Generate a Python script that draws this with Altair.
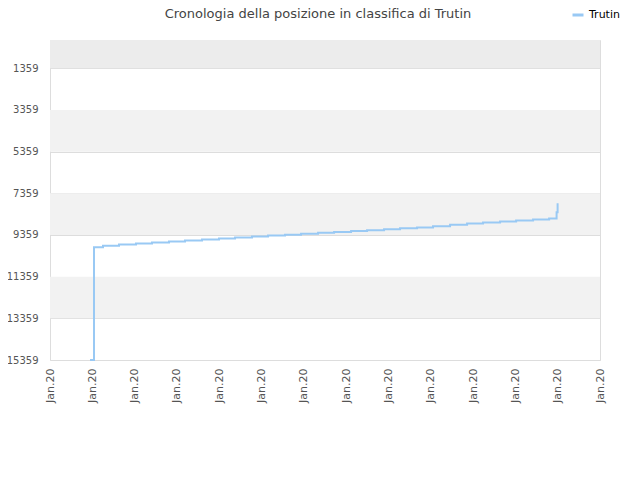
import altair as alt
import pandas as pd

title_text = "Cronologia della posizione in classifica di Trutin"
series_name = "Trutin"
line_color = "#99c9f4"

x_ticks = list(range(14))
x_label = "Jan.20"
y_ticks = [1359, 3359, 5359, 7359, 9359, 11359, 13359, 15359]

x_pos = [0.946, 1.040, 1.040, 1.040, 1.040, 1.040, 1.253, 1.631, 2.033, 2.411,
         2.813, 3.191, 3.593, 3.995, 4.374, 4.775, 5.154, 5.556, 5.934, 6.336,
         6.714, 7.116, 7.494, 7.896, 8.274, 8.676, 9.054, 9.456, 9.858, 10.236,
         10.638, 11.017, 11.418, 11.797, 11.974, 11.998]
ranks = [15359, 13059, 11812, 10901, 10470, 9942, 9880, 9813, 9765, 9717,
         9669, 9621, 9573, 9525, 9477, 9429, 9386, 9343, 9300, 9256,
         9213, 9170, 9127, 9084, 9041, 8997, 8935, 8868, 8806, 8758,
         8710, 8662, 8614, 8566, 8264, 7832]

band_lo = [1, 3359, 7359, 11359]
band_hi = [1359, 5359, 9359, 13359]
band_fill = ["#ececec", "#f2f2f2", "#f2f2f2", "#f2f2f2"]

line_df = pd.DataFrame({"x": x_pos, "rank": ranks,
                        "i": list(range(len(x_pos))),
                        "serie": [series_name] * len(x_pos)})
band_df = pd.DataFrame({"lo": band_lo, "hi": band_hi, "fill": band_fill})

xscale = alt.Scale(domain=[0, 13], nice=False, zero=False)
yscale = alt.Scale(domain=[1, 15359], reverse=True, nice=False, zero=False)

bands = alt.Chart(band_df).mark_rect().encode(
    x=alt.datum(0, scale=xscale),
    x2=alt.datum(13),
    y=alt.Y("lo:Q", scale=yscale),
    y2="hi:Q",
    fill=alt.Fill("fill:N", scale=None),
)

line = alt.Chart(line_df).mark_line(interpolate="step-after", strokeWidth=2).encode(
    x=alt.X("x:Q", scale=xscale, title=None,
            axis=alt.Axis(values=x_ticks, labelExpr="'" + x_label + "'",
                          labelAngle=270, grid=False, ticks=False, domain=False,
                          labelPadding=8, labelFontSize=11)),
    y=alt.Y("rank:Q", scale=yscale, title=None,
            axis=alt.Axis(values=y_ticks, format="d", grid=True, gridColor="#dddddd",
                          ticks=False, domain=False, labelPadding=12,
                          labelFontSize=10)),
    order="i:Q",
    color=alt.Color("serie:N",
                    scale=alt.Scale(domain=[series_name], range=[line_color]),
                    legend=alt.Legend(title=None, orient="none", legendX=521,
                                      legendY=-32, symbolType="stroke",
                                      symbolStrokeWidth=3, symbolSize=121,
                                      labelFontSize=11, labelColor="#000000",
                                      labelFont="DejaVu Sans")),
)

chart = alt.layer(bands, line).properties(
    width=550, height=320,
    title=alt.TitleParams(title_text, fontSize=13, font="DejaVu Sans",
                          fontWeight="normal", color="#444444", frame="group",
                          dx=-7, dy=17, anchor="middle"),
    autosize=alt.AutoSizeParams(type="none"),
    padding={"left": 42, "top": 32, "right": 30, "bottom": 100},
).configure_axis(
    labelFont="DejaVu Sans", labelColor="#555555"
).configure_view(
    stroke="#dddddd"
)

chart.save("out.html", embed_options={"renderer": "svg", "actions": False})
